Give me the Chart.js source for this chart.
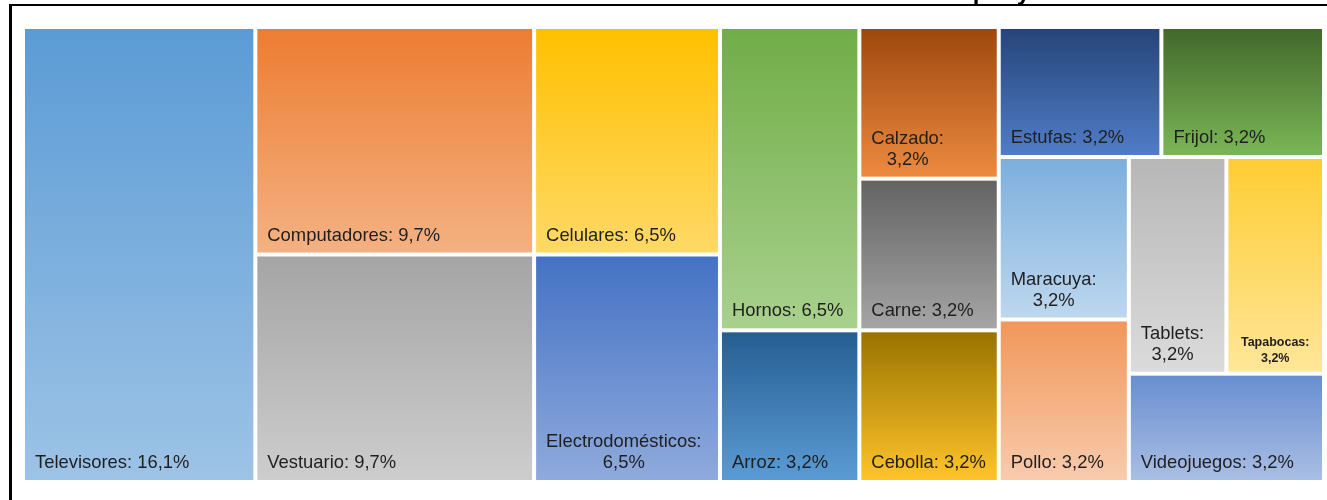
<!DOCTYPE html>
<html lang="es">
<head>
<meta charset="utf-8">
<title>Treemap</title>
<script src="https://cdn.jsdelivr.net/npm/chart.js@4.4.1/dist/chart.umd.min.js"></script>
<style>
  html, body { margin: 0; padding: 0; background: #fff; overflow: hidden; }
  #wrap { position: relative; width: 1327px; height: 500px; }
  #frame { position: absolute; left: 9px; top: 4px; right: 0; bottom: -10px;
           border-top: 2px solid #000; border-left: 3px solid #000; pointer-events: none; }
</style>
</head>
<body>
<div id="wrap">
  <canvas id="treemap" width="1327" height="500"></canvas>
  <div id="frame"></div>
</div>
<script>
// Datos del treemap
const categories = ['Televisores', 'Computadores', 'Vestuario', 'Celulares', 'Electrodomésticos', 'Hornos',
  'Arroz', 'Calzado', 'Carne', 'Cebolla', 'Estufas', 'Frijol', 'Maracuya', 'Pollo', 'Tablets', 'Tapabocas', 'Videojuegos'];
const units = [5, 3, 3, 2, 2, 2,
  1, 1, 1, 1, 1, 1, 1, 1, 1, 1, 1];
// porcentajes tal como aparecen en las etiquetas
const percentLabels = ['16,1%', '9,7%', '9,7%', '6,5%', '6,5%', '6,5%',
  '3,2%', '3,2%', '3,2%', '3,2%', '3,2%', '3,2%', '3,2%', '3,2%', '3,2%', '3,2%', '3,2%'];

// Colores del degradado (arriba -> abajo)
const topColors = ['#5B9BD5', '#ED7D31', '#A5A5A5', '#FFC000', '#4472C4', '#70AD47',
  '#255E91', '#9E480E', '#636363', '#997300', '#264478', '#43682B', '#7CAFDD', '#F1975A', '#B7B7B7', '#FFCD33', '#698ED0'];
const bottomColors = ['#9DC3E6', '#F4B183', '#CDCDCD', '#FFD966', '#8FAADC', '#A9D18E',
  '#5B9BD5', '#ED8A40', '#A5A5A5', '#FFC42A', '#507DC8', '#7AB656', '#BDD7EE', '#F8CBAD', '#DBDBDB', '#FFE699', '#A9BEE4'];

const chartTitle = 'Artículos de compra y consumo en el mes';
const FONT = "'Liberation Sans', Arial, sans-serif";
const GAP = 2;

// Squarified treemap en unidades de los ejes
function squarify(W, H) {
  const total = units.reduce((a, b) => a + b, 0);
  const k = W * H / total;
  const order = categories.map((_, i) => i)
    .sort((a, b) => units[b] - units[a] || categories[a].localeCompare(categories[b], 'es'));
  const cells = [];
  const box = { x: 0, y: 0, w: W, h: H };
  let rest = order;

  const lastAspect = (row, side) => {
    const t = row.reduce((s, i) => s + units[i], 0) * k / side;
    const len = units[row[row.length - 1]] * k / t;
    return Math.max(t / len, len / t);
  };

  while (rest.length) {
    const column = box.w >= box.h;
    const side = column ? box.h : box.w;
    let n = 1;
    let best = lastAspect(rest.slice(0, 1), side);
    while (n < rest.length) {
      const a = lastAspect(rest.slice(0, n + 1), side);
      if (a <= best || rest.length - (n + 1) === 1) { n++; best = a; } else break;
    }
    const row = rest.slice(0, n);
    const t = row.reduce((s, i) => s + units[i], 0) * k / side;
    let off = 0;
    row.forEach(i => {
      const len = units[i] * k / t;
      if (column) cells.push({ i, x: box.x, y: box.y + off, w: t, h: len });
      else cells.push({ i, x: box.x + off, y: box.y, w: len, h: t });
      off += len;
    });
    if (column) { box.x += t; box.w -= t; } else { box.y += t; box.h -= t; }
    rest = rest.slice(n);
  }
  return cells;
}

// Etiqueta abajo a la izquierda de cada celda
function drawLabel(ctx, i, x0, y0, x1, y1) {
  const name = categories[i] + ':';
  const pct = percentLabels[i];
  const full = name + ' ' + pct;
  const w = x1 - x0;
  ctx.fillStyle = '#1f1f1f';
  ctx.textBaseline = 'alphabetic';
  ctx.font = '18.4px ' + FONT;
  if (ctx.measureText(full).width <= w - 18) {
    ctx.textAlign = 'left';
    ctx.fillText(full, x0 + 10, y1 - 12);
  } else if (ctx.measureText(name).width <= w - 18) {
    const bw = Math.max(ctx.measureText(name).width, ctx.measureText(pct).width);
    ctx.textAlign = 'center';
    ctx.fillText(name, x0 + 10 + bw / 2, y1 - 33);
    ctx.fillText(pct, x0 + 10 + bw / 2, y1 - 12);
  } else {
    ctx.font = 'bold 12.5px ' + FONT;
    ctx.textAlign = 'center';
    ctx.fillText(name, (x0 + x1) / 2, y1 - 26);
    ctx.fillText(pct, (x0 + x1) / 2, y1 - 10);
  }
}

const treemapPlugin = {
  id: 'treemap',
  afterDatasetsDraw(chart) {
    const ctx = chart.ctx;
    const xs = chart.scales.x;
    const ys = chart.scales.y;
    ctx.save();
    squarify(xs.max, ys.max).forEach(c => {
      const x0 = xs.getPixelForValue(c.x) + GAP;
      const x1 = xs.getPixelForValue(c.x + c.w) - GAP;
      const y0 = ys.getPixelForValue(c.y) + GAP;
      const y1 = ys.getPixelForValue(c.y + c.h) - GAP;
      const grad = ctx.createLinearGradient(0, y0, 0, y1);
      grad.addColorStop(0, topColors[c.i]);
      grad.addColorStop(1, bottomColors[c.i]);
      ctx.fillStyle = grad;
      ctx.fillRect(x0, y0, x1 - x0, y1 - y0);
      drawLabel(ctx, c.i, x0, y0, x1, y1);
    });
    // Título (recortado por el borde superior, como en la imagen)
    ctx.font = 'bold 24px ' + FONT;
    ctx.fillStyle = '#000';
    ctx.textAlign = 'left';
    ctx.textBaseline = 'alphabetic';
    ctx.fillText(chartTitle, 778, -0.5);
    ctx.restore();
  }
};

new Chart(document.getElementById('treemap'), {
  type: 'scatter',
  data: { datasets: [{ label: 'Participación', data: [], pointRadius: 0 }] },
  options: {
    responsive: false,
    animation: false,
    layout: { padding: { left: 23, right: 3, top: 27, bottom: 18 } },
    plugins: { legend: { display: false }, tooltip: { enabled: false }, title: { display: false } },
    scales: {
      x: { type: 'linear', min: 0, max: 1300, display: false },
      y: { type: 'linear', min: 0, max: 450, reverse: true, display: false }
    }
  },
  plugins: [treemapPlugin]
});
</script>
</body>
</html>
